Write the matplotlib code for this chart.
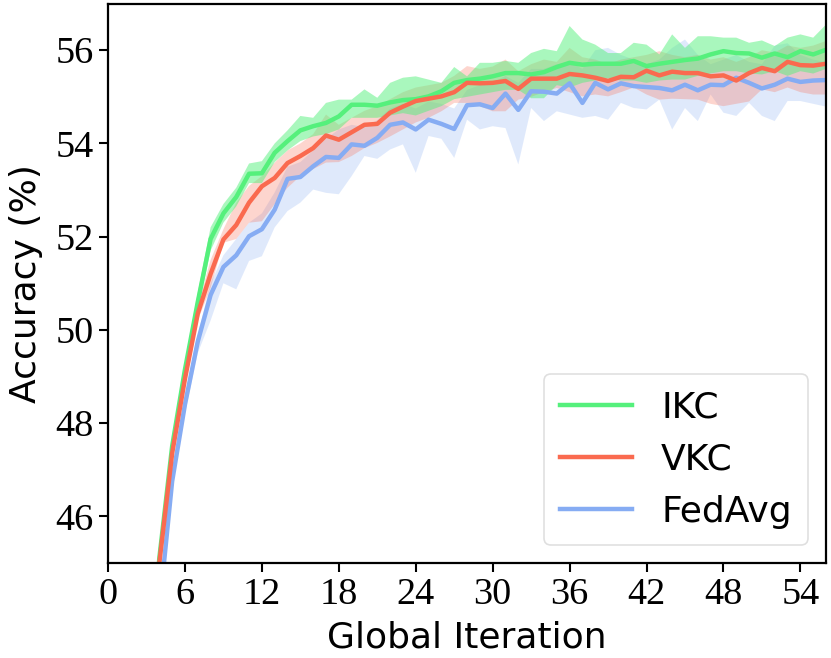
import matplotlib
matplotlib.use("Agg")
import matplotlib.pyplot as plt
import numpy as np

iterations = list(range(0, 57))

ikc_mean = [19.0, 29.0, 36.0, 41.8, 45.1, 47.5, 49.15, 50.6, 51.95, 52.5,
            52.85, 53.35, 53.36, 53.8, 54.05, 54.28, 54.37, 54.44, 54.58, 54.83,
            54.83, 54.81, 54.88, 54.93, 54.95, 55.01, 55.12, 55.3, 55.36, 55.39,
            55.44, 55.51, 55.51, 55.48, 55.53, 55.64, 55.73, 55.69, 55.71, 55.71,
            55.71, 55.77, 55.66, 55.71, 55.75, 55.79, 55.82, 55.91, 55.98, 55.94,
            55.93, 55.84, 55.93, 55.85, 55.98, 55.91, 56.01]
ikc_upper = [19.1, 29.1, 36.1, 41.9, 45.2, 47.6, 49.3, 50.8, 52.2, 52.7,
             53.05, 53.57, 53.62, 54.0, 54.28, 54.59, 54.55, 54.87, 54.94, 54.94,
             55.16, 54.98, 55.3, 55.41, 55.44, 55.37, 55.3, 55.64, 55.44, 55.73,
             55.73, 55.77, 55.73, 55.94, 56.03, 55.98, 56.52, 56.23, 56.12, 55.94,
             55.94, 56.16, 56.12, 55.91, 56.34, 56.05, 56.3, 56.3, 56.27, 56.27,
             56.16, 56.21, 56.09, 56.27, 56.34, 56.27, 56.55]
ikc_lower = [18.9, 28.9, 35.9, 41.7, 45.0, 47.4, 49.0, 50.4, 51.7, 52.3,
             52.65, 53.15, 53.15, 53.6, 53.85, 54.05, 54.15, 54.2, 54.3, 54.55,
             54.55, 54.55, 54.6, 54.65, 54.6, 54.7, 54.8, 54.95, 55.0, 55.05,
             55.1, 55.15, 55.15, 54.97, 54.97, 55.25, 55.2, 55.3, 55.35, 55.4,
             55.35, 55.35, 55.3, 55.35, 55.37, 55.37, 55.45, 55.5, 55.55, 55.55,
             55.5, 55.48, 55.55, 55.45, 55.55, 55.5, 55.6]

vkc_mean = [18.0, 28.0, 35.5, 41.5, 45.0, 47.35, 48.95, 50.35, 51.2, 51.94,
            52.25, 52.73, 53.08, 53.26, 53.58, 53.73, 53.9, 54.17, 54.08, 54.24,
            54.4, 54.42, 54.66, 54.79, 54.91, 54.96, 55.01, 55.1, 55.3, 55.29,
            55.3, 55.34, 55.17, 55.39, 55.39, 55.39, 55.49, 55.46, 55.41, 55.34,
            55.43, 55.42, 55.56, 55.46, 55.54, 55.51, 55.51, 55.44, 55.46, 55.35,
            55.51, 55.62, 55.55, 55.75, 55.68, 55.67, 55.71]
vkc_upper = [18.1, 28.1, 35.6, 41.6, 45.1, 47.5, 49.1, 50.5, 51.5, 52.16,
             52.73, 53.09, 53.3, 53.59, 53.85, 54.0, 54.2, 54.62, 54.4, 54.55,
             54.7, 54.8, 54.95, 55.1, 55.2, 55.25, 55.3, 55.45, 55.66, 55.6,
             55.65, 55.8, 55.55, 55.7, 55.8, 55.75, 56.05, 55.85, 55.8, 55.7,
             55.8, 55.85, 55.9, 55.98, 55.9, 55.85, 55.9, 55.8, 55.85, 55.75,
             55.85, 56.0, 55.95, 56.1, 56.05, 56.1, 56.2]
vkc_lower = [17.9, 27.9, 35.4, 41.4, 44.9, 47.2, 48.8, 50.2, 50.9, 51.87,
             51.95, 52.3, 52.33, 52.7, 53.05, 53.3, 53.45, 53.59, 53.6, 53.73,
             53.9, 54.01, 54.15, 54.3, 54.45, 54.55, 54.69, 54.87, 54.87, 54.8,
             54.69, 54.69, 54.94, 55.0, 55.1, 55.19, 55.1, 55.01, 55.05, 55.01,
             55.1, 55.2, 55.05, 54.94, 54.96, 54.95, 54.94, 54.85, 54.8, 54.85,
             54.9, 55.16, 55.1, 55.2, 55.1, 55.05, 55.05]

fedavg_mean = [17.0, 26.5, 34.0, 40.3, 44.0, 46.75, 48.4, 49.75, 50.75, 51.35,
               51.6, 52.01, 52.16, 52.58, 53.24, 53.28, 53.51, 53.71, 53.69, 53.98,
               53.95, 54.12, 54.4, 54.45, 54.3, 54.51, 54.42, 54.31, 54.82, 54.84,
               54.76, 55.07, 54.72, 55.12, 55.11, 55.07, 55.29, 54.87, 55.3, 55.16,
               55.29, 55.23, 55.21, 55.19, 55.14, 55.26, 55.14, 55.26, 55.25, 55.41,
               55.3, 55.18, 55.26, 55.39, 55.32, 55.35, 55.36]
fedavg_upper = [17.1, 26.6, 34.1, 40.4, 44.1, 46.9, 48.6, 49.9, 51.0, 51.6,
                51.95, 52.3, 52.5, 52.95, 53.5, 53.6, 53.85, 54.1, 54.3, 54.4,
                54.35, 54.5, 54.75, 54.85, 54.75, 54.9, 54.85, 54.75, 55.15, 55.25,
                55.3, 55.45, 55.3, 55.6, 55.6, 55.7, 55.75, 55.6, 56.0, 56.05,
                55.9, 55.8, 55.7, 55.8, 56.05, 56.23, 55.9, 55.7, 55.8, 55.9,
                55.75, 55.7, 56.1, 56.15, 55.9, 55.8, 55.75]
fedavg_lower = [16.9, 26.4, 33.9, 40.2, 43.9, 46.6, 48.2, 49.5, 50.2, 51.0,
                50.87, 51.48, 51.58, 52.2, 52.55, 52.73, 53.01, 52.94, 52.91, 53.3,
                53.73, 53.67, 53.87, 53.98, 53.37, 54.16, 54.1, 53.69, 54.51, 54.3,
                54.37, 54.33, 53.55, 54.76, 54.48, 54.69, 54.62, 54.55, 54.59, 54.51,
                54.87, 54.76, 54.73, 54.94, 54.3, 54.76, 54.48, 55.05, 54.66, 54.59,
                54.87, 54.59, 54.48, 54.91, 54.91, 54.85, 54.79]

labels = ["IKC", "VKC", "FedAvg"]
xticks = [0, 6, 12, 18, 24, 30, 36, 42, 48, 54]
yticks = [46, 48, 50, 52, 54, 56]

c_green = "#55f07c"
c_red = "#fa6a4f"
c_blue = "#86acf3"

fig = plt.figure(figsize=(8.31, 6.58), dpi=100)
ax = fig.add_axes([0.130, 0.1445, 0.864, 0.850])

x = np.array(iterations)
ax.fill_between(x, fedavg_lower, fedavg_upper, color=c_blue, alpha=0.26, linewidth=0)
ax.fill_between(x, vkc_lower, vkc_upper, color=c_red, alpha=0.28, linewidth=0)
ax.fill_between(x, ikc_lower, ikc_upper, color=c_green, alpha=0.5, linewidth=0)

lg, = ax.plot(x, ikc_mean, color=c_green, lw=3.2, label=labels[0])
lb, = ax.plot(x, fedavg_mean, color=c_blue, lw=3.2, label=labels[2])
lr, = ax.plot(x, vkc_mean, color=c_red, lw=3.2, label=labels[1])

ax.set_xlim(0, 56)
ax.set_ylim(45, 57)
ax.set_xticks(xticks)
ax.set_yticks(yticks)

serif = ["Liberation Serif", "DejaVu Serif"]
for lab in ax.get_xticklabels() + ax.get_yticklabels():
    lab.set_fontfamily(serif)
    lab.set_fontsize(27.5)
ax.tick_params(axis="both", direction="out", length=6.5, width=1.5, colors="black", pad=4)
for s in ax.spines.values():
    s.set_linewidth(1.6)
    s.set_color("black")

ax.set_xlabel("Global Iteration", fontsize=26, family="DejaVu Sans", labelpad=6)
ax.set_ylabel("Accuracy (%)", fontsize=26, family="DejaVu Sans", labelpad=9)

leg = ax.legend(handles=[lg, lr, lb], labels=labels, loc="lower right",
                fontsize=26, frameon=True, fancybox=True, borderpad=0.45)
leg.get_frame().set_edgecolor("#d8d8d8")
leg.get_frame().set_linewidth(1.2)

fig.savefig("out.png", dpi=100)
